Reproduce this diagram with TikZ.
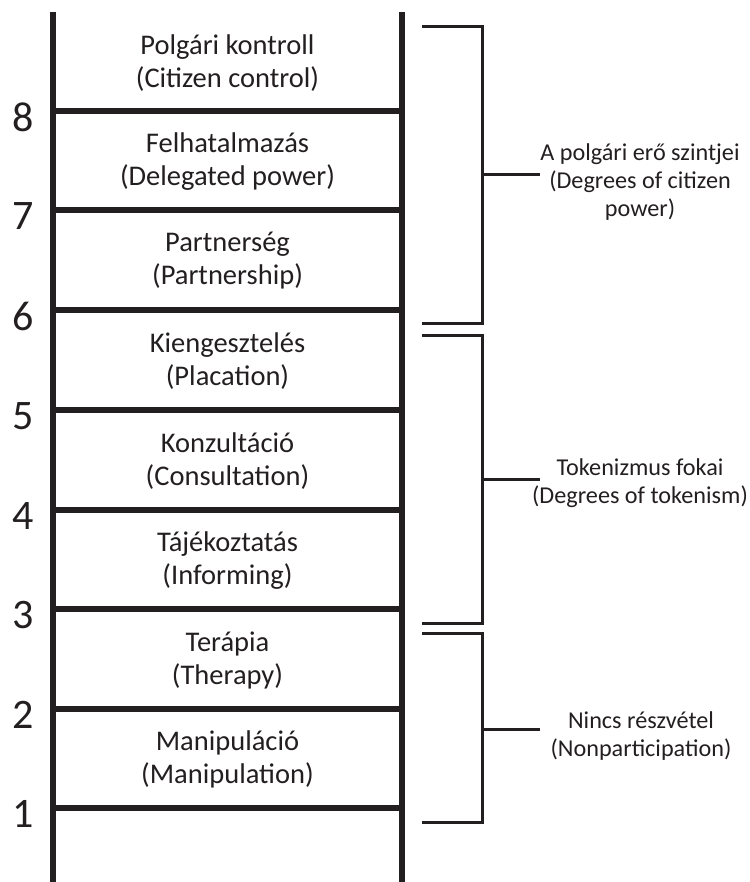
\documentclass[tikz,border=0pt]{standalone}
\usepackage{fontspec}
\setmainfont{Carlito}
\definecolor{ink}{HTML}{231F20}
\begin{document}
\begin{tikzpicture}[x=1pt,y=-1pt,
  rail/.style={draw=ink,line width=6pt},
  rung/.style={draw=ink,line width=6pt},
  brk/.style={draw=ink,line width=3pt,line join=miter},
  cell/.style={text=ink,align=center,font=\fontsize{28.5}{33}\selectfont},
  lbl/.style={text=ink,align=center,font=\fontsize{24.2}{28}\selectfont},
  num/.style={text=ink,font=\fontsize{42}{42}\selectfont}]
\useasboundingbox (0,0) rectangle (749,882);
% rails
\coordinate (lt) at (53,12); \coordinate (lb) at (53,885);
\coordinate (rt) at (402,12); \coordinate (rb) at (402,885);
\draw[rail] (lt) -- (lb);
\draw[rail] (rt) -- (rb);
% rungs
\foreach \i/\y in {8/111,7/210,6/310,5/410,4/510,3/609,2/709,1/808}{
  \coordinate (L\i) at (53,\y);
  \coordinate (R\i) at (402,\y);
  \draw[rung] (L\i) -- (R\i);
  \node[num] (n\i) at (23,\y+6) {\i};
}
% cell texts
\node[cell] (c8) at (227.5,63) {Polgári kontroll\\(Citizen control)};
\node[cell] (c7) at (227.5,162) {Felhatalmazás\\(Delegated power)};
\node[cell] (c6) at (227.5,261) {Partnerség\\(Partnership)};
\node[cell] (c5) at (227.5,361) {Kiengesztelés\\(Placation)};
\node[cell] (c4) at (227.5,461) {Konzultáció\\(Consultation)};
\node[cell] (c3) at (227.5,561) {Tájékoztatás\\(Informing)};
\node[cell] (c2) at (227.5,660) {Terápia\\(Therapy)};
\node[cell] (c1) at (227.5,759) {Manipuláció\\(Manipulation)};
% brackets
\coordinate (a1) at (422,27); \coordinate (a2) at (482,27);
\coordinate (a3) at (482,323); \coordinate (a4) at (422,323);
\coordinate (am) at (482,175); \coordinate (ae) at (540,175);
\draw[brk] (a1) -- (a2) -- (a3) -- (a4);
\draw[brk] (am) -- (ae);
\node[lbl] (la) at (640,182) {A polgári erő szintjei\\(Degrees of citizen\\power)};
\coordinate (b1) at (422,335); \coordinate (b2) at (482,335);
\coordinate (b3) at (482,623); \coordinate (b4) at (422,623);
\coordinate (bm) at (482,479); \coordinate (be) at (540,479);
\draw[brk] (b1) -- (b2) -- (b3) -- (b4);
\draw[brk] (bm) -- (be);
\node[lbl] (lb2) at (640,483) {Tokenizmus fokai\\(Degrees of tokenism)};
\coordinate (d1) at (422,633); \coordinate (d2) at (482,633);
\coordinate (d3) at (482,822); \coordinate (d4) at (422,822);
\coordinate (dm) at (482,729); \coordinate (de) at (540,729);
\draw[brk] (d1) -- (d2) -- (d3) -- (d4);
\draw[brk] (dm) -- (de);
\node[lbl] (ld) at (641,736) {Nincs részvétel\\(Nonparticipation)};
\end{tikzpicture}
\end{document}
